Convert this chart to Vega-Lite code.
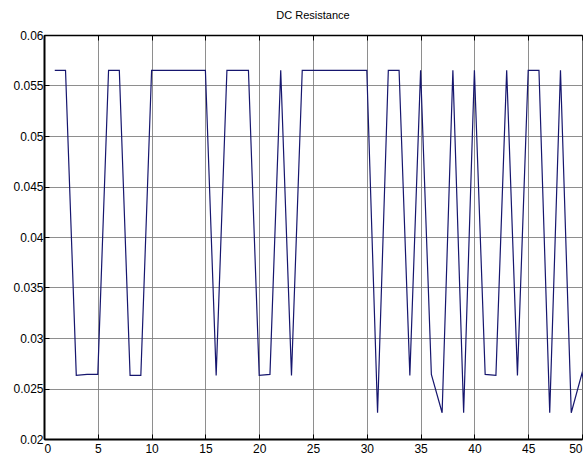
{
  "$schema": "https://vega.github.io/schema/vega-lite/v6.json",
  "width": 538,
  "height": 404,
  "autosize": {"type": "none"},
  "padding": {"left": 44, "top": 35, "right": 1, "bottom": 22},
  "background": "white",
  "title": {"text": "DC Resistance", "font": "Liberation Sans", "fontSize": 11, "fontWeight": "normal", "color": "#000", "offset": 8},
  "config": {
    "view": {"stroke": "#000", "strokeWidth": 1},
    "axis": {"labelFont": "Liberation Sans", "labelFontSize": 12, "labelColor": "#000", "domainColor": "#000", "tickColor": "#000", "gridColor": "#7a7a7a", "gridOpacity": 0.85, "titleFontSize": 0}
  },
  "data": {"values": [
    {"x": 1, "r": 0.0565}, {"x": 2, "r": 0.0565}, {"x": 3, "r": 0.0263}, {"x": 4, "r": 0.0264}, {"x": 5, "r": 0.0264},
    {"x": 6, "r": 0.0565}, {"x": 7, "r": 0.0565}, {"x": 8, "r": 0.0263}, {"x": 9, "r": 0.0263}, {"x": 10, "r": 0.0565},
    {"x": 11, "r": 0.0565}, {"x": 12, "r": 0.0565}, {"x": 13, "r": 0.0565}, {"x": 14, "r": 0.0565}, {"x": 15, "r": 0.0565},
    {"x": 16, "r": 0.0263}, {"x": 17, "r": 0.0565}, {"x": 18, "r": 0.0565}, {"x": 19, "r": 0.0565}, {"x": 20, "r": 0.0263},
    {"x": 21, "r": 0.0264}, {"x": 22, "r": 0.0565}, {"x": 23, "r": 0.0263}, {"x": 24, "r": 0.0565}, {"x": 25, "r": 0.0565},
    {"x": 26, "r": 0.0565}, {"x": 27, "r": 0.0565}, {"x": 28, "r": 0.0565}, {"x": 29, "r": 0.0565}, {"x": 30, "r": 0.0565},
    {"x": 31, "r": 0.0226}, {"x": 32, "r": 0.0565}, {"x": 33, "r": 0.0565}, {"x": 34, "r": 0.0263}, {"x": 35, "r": 0.0565},
    {"x": 36, "r": 0.0264}, {"x": 37, "r": 0.0226}, {"x": 38, "r": 0.0565}, {"x": 39, "r": 0.0226}, {"x": 40, "r": 0.0565},
    {"x": 41, "r": 0.0264}, {"x": 42, "r": 0.0263}, {"x": 43, "r": 0.0565}, {"x": 44, "r": 0.0263}, {"x": 45, "r": 0.0565},
    {"x": 46, "r": 0.0565}, {"x": 47, "r": 0.0226}, {"x": 48, "r": 0.0565}, {"x": 49, "r": 0.0226}, {"x": 50, "r": 0.0265},
    {"x": 51, "r": 0.0226}
  ]},
  "layer": [
    {
      "mark": {"type": "line", "color": "#16166e", "strokeWidth": 1.2},
      "encoding": {
        "x": {"field": "x", "type": "quantitative", "scale": {"domain": [0, 50], "nice": false}, "axis": {"orient": "bottom", "values": [0,5,10,15,20,25,30,35,40,45,50], "grid": true, "tickSize": -5, "labelPadding": 9, "domainWidth": 2, "title": null}},
        "y": {"field": "r", "type": "quantitative", "scale": {"domain": [0.02, 0.06], "nice": false, "zero": false}, "axis": {"values": [0.02,0.025,0.03,0.035,0.04,0.045,0.05,0.055,0.06], "format": ".3~f", "grid": true, "tickSize": -5, "labelPadding": 6, "domainWidth": 2, "title": null}}
      }
    },
    {
      "mark": {"type": "line", "opacity": 0},
      "encoding": {
        "x": {"field": "x", "type": "quantitative", "axis": {"orient": "top", "values": [0,5,10,15,20,25,30,35,40,45,50], "labels": false, "grid": false, "tickSize": -5, "domainWidth": 1.5, "title": null}},
        "y": {"field": "r", "type": "quantitative", "axis": {"orient": "right", "labels": false, "grid": false, "ticks": false, "domain": false, "title": null}}
      }
    }
  ],
  "resolve": {"axis": {"x": "independent", "y": "independent"}}
}
